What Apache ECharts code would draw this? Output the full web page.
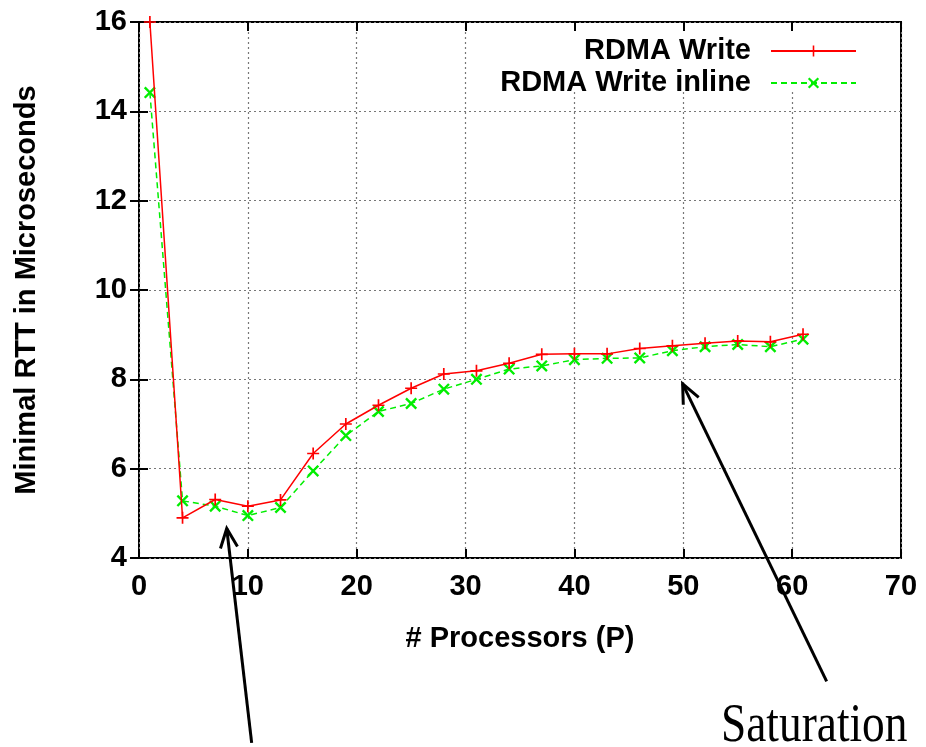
<!DOCTYPE html>
<html>
<head>
<meta charset="utf-8">
<script src="https://cdn.jsdelivr.net/npm/echarts@6/dist/echarts.min.js"></script>
<style>html,body{margin:0;padding:0;background:#fff}#c{width:926px;height:747px}</style>
</head>
<body>
<div id="c"></div>
<script>
const processors = [1, 4, 7, 10, 13, 16, 19, 22, 25, 28, 31, 34, 37, 40, 43, 46, 49, 52, 55, 58, 61];
const rdmaWrite = [16.0, 4.9, 5.31, 5.16, 5.30, 6.34, 7.0, 7.42, 7.80, 8.12, 8.19, 8.36, 8.56, 8.57, 8.57, 8.69, 8.75, 8.81, 8.86, 8.84, 9.01];
const rdmaWriteInline = [14.42, 5.28, 5.16, 4.95, 5.13, 5.95, 6.74, 7.28, 7.46, 7.78, 8.0, 8.23, 8.30, 8.44, 8.47, 8.48, 8.64, 8.73, 8.78, 8.73, 8.90];
const seriesNames = ['RDMA Write', 'RDMA Write inline'];
const xTicks = [0, 10, 20, 30, 40, 50, 60, 70];
const yTicks = [4, 6, 8, 10, 12, 14, 16];
const xAxisTitle = '# Processors (P)';
const yAxisTitle = 'Minimal RTT in Microseconds';
const annotationText = 'Saturation';
// annotation arrows in data coordinates: tail -> tip
const arrows = [
  {tail: [10.35, -0.14], tip: [8.06, 4.66]},
  {tail: [63.17, 1.24], tip: [49.94, 7.90]}
];

const FONT = "'Liberation Sans', Arial, sans-serif";
const PLUS = 'path://M4.3,0 H5.7 V4.3 H10 V5.7 H5.7 V10 H4.3 V5.7 H0 V4.3 H4.3 Z';
const CROSS = 'path://M0,1.4 L1.4,0 L10,8.6 L8.6,10 Z M8.6,0 L10,1.4 L1.4,10 L0,8.6 Z';

const chart = echarts.init(document.getElementById('c'), null, {renderer: 'canvas'});

const tickStyle = {show: true, inside: true, length: 9, lineStyle: {color: '#000', width: 2}};
const labelStyle = {color: '#000', fontFamily: FONT, fontWeight: 'bold', fontSize: 29};
const legendText = {color: '#000', fontFamily: FONT, fontWeight: 'bold', fontSize: 29, lineHeight: 30, padding: [0, 15, 0, 0]};

const option = {
  animation: false,
  backgroundColor: '#fff',
  grid: {left: 139, right: 25, top: 22, bottom: 189, show: true, borderColor: '#000', borderWidth: 2, backgroundColor: 'transparent', containLabel: false},
  legend: [
    {data: [seriesNames[0]], right: 64, top: 31, z: 20, orient: 'vertical', align: 'right',
     itemWidth: 85, itemHeight: 14, textStyle: legendText},
    {data: [seriesNames[1]], right: 64, top: 63, z: 20, orient: 'vertical', align: 'right',
     itemWidth: 85, itemHeight: 14, textStyle: legendText}
  ],
  xAxis: [
    {type: 'value', position: 'bottom', min: xTicks[0], max: xTicks[xTicks.length - 1], interval: 10,
     axisLine: {show: false}, axisTick: tickStyle,
     axisLabel: Object.assign({margin: 14}, labelStyle),
     splitLine: {show: true, lineStyle: {color: '#777', type: [2, 3], width: 1.2}},
     name: xAxisTitle, nameLocation: 'middle', nameGap: 66,
     nameTextStyle: {color: '#000', fontFamily: FONT, fontWeight: 'bold', fontSize: 29}},
    {type: 'value', position: 'top', min: xTicks[0], max: xTicks[xTicks.length - 1], interval: 10, z: 20,
     axisLine: {show: false}, axisTick: tickStyle, axisLabel: {show: false}, splitLine: {show: false}}
  ],
  yAxis: [
    {type: 'value', position: 'left', min: yTicks[0], max: yTicks[yTicks.length - 1], interval: 2,
     axisLine: {show: false}, axisTick: tickStyle,
     axisLabel: Object.assign({margin: 12}, labelStyle),
     splitLine: {show: true, lineStyle: {color: '#777', type: [2, 3], width: 1.2}},
     name: yAxisTitle, nameLocation: 'middle', nameGap: 98, nameRotate: 90,
     nameTextStyle: {color: '#000', fontFamily: FONT, fontWeight: 'bold', fontSize: 29}},
    {type: 'value', position: 'right', min: yTicks[0], max: yTicks[yTicks.length - 1], interval: 2, z: 20,
     axisLine: {show: false}, axisTick: tickStyle, axisLabel: {show: false}, splitLine: {show: false}}
  ],
  series: [
    {name: seriesNames[0], type: 'line', xAxisIndex: 0, yAxisIndex: 0,
     data: processors.map((p, i) => [p, rdmaWrite[i]]),
     symbol: PLUS, symbolSize: 12, showAllSymbol: true, clip: false,
     lineStyle: {color: '#ff0000', width: 1.5, type: 'solid'},
     itemStyle: {color: '#ff0000', borderWidth: 0}, z: 3},
    {name: seriesNames[1], type: 'line', xAxisIndex: 0, yAxisIndex: 0,
     data: processors.map((p, i) => [p, rdmaWriteInline[i]]),
     symbol: CROSS, symbolSize: 12, showAllSymbol: true, clip: false,
     lineStyle: {color: '#00ee00', width: 1.5, type: [6, 4]},
     itemStyle: {color: '#00ee00', borderWidth: 0}, z: 2}
  ]
};
chart.setOption(option);

function arrowGraphics(a) {
  const t = chart.convertToPixel({gridIndex: 0}, a.tail);
  const p = chart.convertToPixel({gridIndex: 0}, a.tip);
  const ang = Math.atan2(t[1] - p[1], t[0] - p[0]);
  const L = 21, spread = 0.42;
  const h1 = [p[0] + L * Math.cos(ang + spread), p[1] + L * Math.sin(ang + spread)];
  const h2 = [p[0] + L * Math.cos(ang - spread), p[1] + L * Math.sin(ang - spread)];
  const st = {stroke: '#000', lineWidth: 3, fill: null};
  return [
    {type: 'line', shape: {x1: t[0], y1: t[1], x2: p[0], y2: p[1]}, style: st, z: 10},
    {type: 'polyline', shape: {points: [h1, p, h2]}, style: st, z: 10}
  ];
}
const g = [];
// white key box hiding grid lines behind the legend
g.push({type: 'rect', z: 15, shape: {x: 478, y: 23, width: 421, height: 69}, style: {fill: '#ffffff'}, silent: true});
arrows.forEach(a => g.push(...arrowGraphics(a)));
g.push({type: 'text', x: 721, y: 727, scaleX: 0.84, z: 10,
  style: {text: annotationText, fill: '#000', fontFamily: "'Liberation Serif', 'Times New Roman', serif", fontSize: 54, verticalAlign: 'middle', align: 'left'}});
chart.setOption({graphic: {elements: g}});
</script>
</body>
</html>
